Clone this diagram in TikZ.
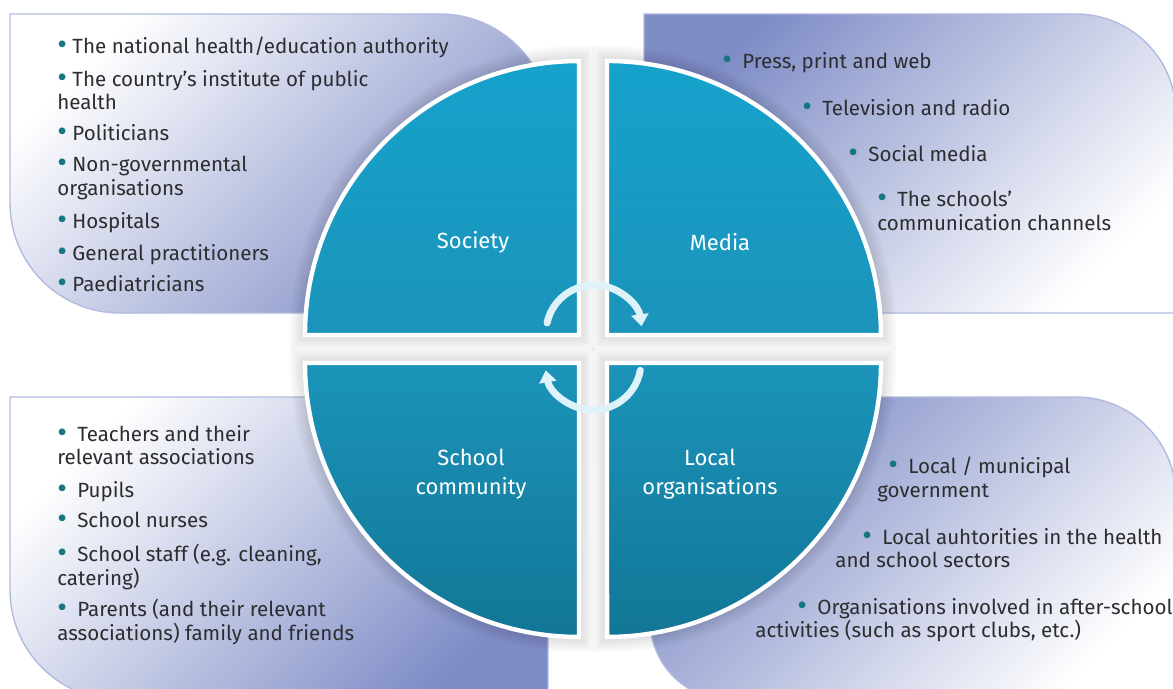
\documentclass[tikz,border=0pt]{standalone}
\usepackage{fontspec}
\setmainfont{Fira Sans}
\usetikzlibrary{arrows.meta}
\definecolor{panelDark}{RGB}{126,140,198}
\definecolor{panelLine}{RGB}{178,186,224}
\definecolor{quadTop}{RGB}{22,162,204}
\definecolor{quadMid}{RGB}{27,148,186}
\definecolor{quadBot}{RGB}{18,118,150}
\definecolor{arrowBlue}{RGB}{222,242,250}
\definecolor{textGray}{RGB}{45,45,48}
\definecolor{bulletTeal}{RGB}{22,118,130}
\newcommand{\bul}{{\color{bulletTeal}\raisebox{-0.5pt}{\scalebox{1.45}{\textbullet}}}}
\tikzset{
  panel/.style={draw=panelLine, line width=0.8pt},
  quad/.style={draw=white, line width=2.5pt,
    preaction={draw=black, opacity=0.025, line width=17pt},
    preaction={draw=black, opacity=0.025, line width=14pt},
    preaction={draw=black, opacity=0.025, line width=11pt},
    preaction={draw=black, opacity=0.025, line width=8pt},
    preaction={draw=black, opacity=0.025, line width=5pt}},
  entry/.style={anchor=north west, align=left, inner sep=0pt, text=textGray,
    font=\fontsize{11.7}{13.4}\selectfont},
  qlabel/.style={align=center, text=white, font=\fontsize{12.5}{16.5}\selectfont},
  turn/.style={draw=arrowBlue, line width=4pt, line cap=round,
    -{Triangle[length=0.24cm, width=0.34cm]}}
}
\begin{document}
\begin{tikzpicture}[x=0.02cm, y=-0.02cm]
\useasboundingbox (0,0) rectangle (1173,689);
\shade[panel, top color=white, bottom color=panelDark, shading angle=45] (10,14) -- (440,14) arc[start angle=90, end angle=0, radius=2.2cm] -- (550,313) -- (120,313) arc[start angle=270, end angle=180, radius=2.2cm] -- cycle; % society panel
\shade[panel, top color=panelDark, bottom color=white, shading angle=45] (644,14) -- (1076,14) arc[start angle=90, end angle=0, radius=2cm] -- (1176,313) -- (644,313) -- cycle; % media panel
\shade[panel, top color=white, bottom color=panelDark, shading angle=45] (10,397) -- (548,397) -- (548,700) -- (120,700) arc[start angle=270, end angle=180, radius=2.2cm] -- cycle; % school panel
\shade[panel, top color=panelDark, bottom color=white, shading angle=45] (650,397) -- (1076,397) arc[start angle=90, end angle=0, radius=2cm] -- (1176,700) -- (730,700) arc[start angle=270, end angle=180, radius=1.6cm] -- cycle; % local panel
\shade[quad, top color=quadTop, bottom color=quadMid] (579,335) -- (305,335) arc[start angle=180, end angle=90, radius=5.48cm] -- cycle; % Society
\shade[quad, top color=quadTop, bottom color=quadMid] (607,335) -- (607,61) arc[start angle=90, end angle=0, radius=5.48cm] -- cycle; % Media
\shade[quad, top color=quadMid, bottom color=quadBot] (579,363) -- (305,363) arc[start angle=180, end angle=270, radius=5.48cm] -- cycle; % School community
\shade[quad, top color=quadMid, bottom color=quadBot] (607,363) -- (881,363) arc[start angle=0, end angle=-90, radius=5.48cm] -- cycle; % Local organisations
\node[qlabel] (society) at (473,242) {Society};
\node[qlabel] (media) at (720,242) {Media};
\node[qlabel] (school) at (471,474) {School\\community};
\node[qlabel] (local) at (710,474) {Local\\organisations};
\draw[turn] (594,333) ++(168:0.96cm) arc[start angle=168, end angle=8, radius=0.96cm]; % turn top
\draw[turn] (593,362) ++(-10:0.96cm) arc[start angle=-10, end angle=-170, radius=0.96cm]; % turn bottom
% society list
\node[entry] (soc1) at (57,37) {\bul\ The national health/education authority};
\node[entry] (soc2) at (57,70) {\bul\ The country’s institute of public\\health};
\node[entry] (soc3) at (57,124) {\bul\ Politicians};
\node[entry] (soc4) at (57,156) {\bul\ Non-governmental\\organisations};
\node[entry] (soc5) at (57,212) {\bul\ Hospitals};
\node[entry] (soc6) at (57,244) {\bul\ General practitioners};
\node[entry] (soc7) at (57,275) {\bul\ Paediatricians};
% media list
\node[entry] (med1) at (722,52) {\bul\enspace Press, print and web};
\node[entry] (med2) at (802,99) {\bul\enspace Television and radio};
\node[entry] (med3) at (848,145) {\bul\enspace Social media};
\node[entry] (med4) at (877,191) {\bul\enspace The schools’\\communication channels};
% school list
\node[entry] (sch1) at (57,425) {\bul\enspace Teachers and their\\relevant associations};
\node[entry] (sch2) at (57,481) {\bul\enspace Pupils};
\node[entry] (sch3) at (57,512) {\bul\enspace School nurses};
\node[entry] (sch4) at (57,544) {\bul\enspace School staff (e.g. cleaning,\\catering)};
\node[entry] (sch5) at (57,599) {\bul\enspace Parents (and their relevant\\associations) family and friends};
% local list
\node[entry] (loc1) at (877,457) {\hspace*{0.22cm}\bul\enspace Local / municipal\\government};
\node[entry] (loc2) at (835,528) {\hspace*{0.54cm}\bul\enspace Local auhtorities in the health\\and school sectors};
\node[entry] (loc3) at (755,598) {\hspace*{0.84cm}\bul\enspace Organisations involved in after-school\\activities (such as sport clubs, etc.)};
\end{tikzpicture}
\end{document}
